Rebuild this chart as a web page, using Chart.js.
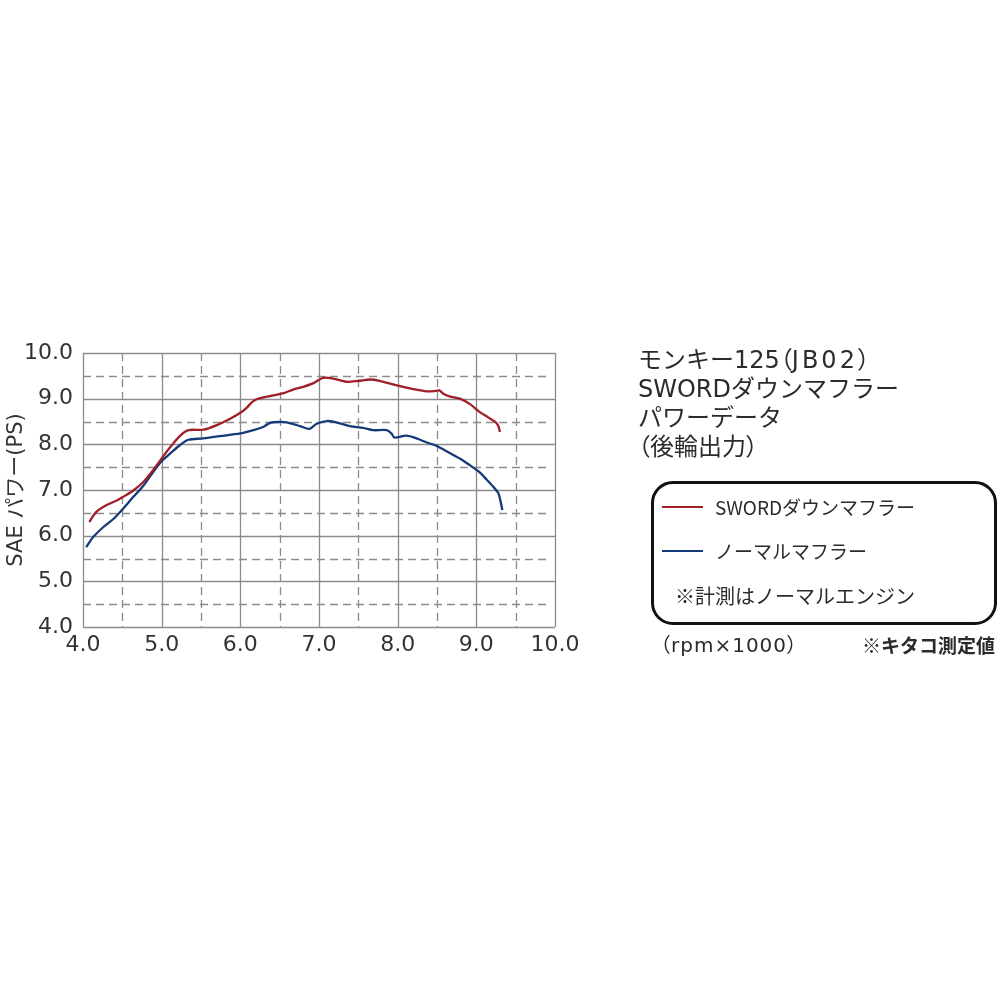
<!DOCTYPE html>
<html>
<head>
<meta charset="utf-8">
<script src="https://cdn.jsdelivr.net/npm/chart.js@4/dist/chart.umd.min.js"></script>
<style>
  html, body { margin: 0; padding: 0; background: #fff; }
  #wrap { position: relative; width: 1000px; height: 1000px; overflow: hidden; }
  canvas { position: absolute; left: 0; top: 0; }
  .t { position: absolute; font-family: "DejaVu Sans", "Noto Sans CJK JP", sans-serif; color: #2b2b2b; white-space: nowrap; }
  .p { font-feature-settings: "palt"; }
  #title { left: 638px; top: 346px; font-size: 24px; line-height: 29px; }
  #box { position: absolute; left: 651px; top: 481px; width: 340px; height: 138px; border: 3.5px solid #111; border-radius: 22px; }
  .sw { position: absolute; height: 2px; width: 41px; left: 662px; }
  .lg { font-size: 19px; line-height: 24px; font-family: "Noto Sans CJK JP", "Noto Sans", sans-serif; }
</style>
</head>
<body>
<div id="wrap">
  <canvas id="c" width="1000" height="1000"></canvas>
  <div class="t" id="title">モンキー125<span class="p">（</span><span style="letter-spacing:3px">JB02</span><span class="p">）</span><br>SWORDダウンマフラー<br>パワーデータ<br><span class="p">（</span>後輪出力<span class="p">）</span></div>
  <div id="box"></div>
  <div class="sw" style="top:506px;background:#a01e28;"></div>
  <div class="t lg" style="left:715px;top:495px;">SWORDダウンマフラー</div>
  <div class="sw" style="top:550px;background:#153a78;"></div>
  <div class="t lg" style="left:715px;top:539px;">ノーマルマフラー</div>
  <div class="t lg" style="left:675px;top:584px;font-size:20px;">※計測はノーマルエンジン</div>
  <div class="t" style="left:660px;top:633px;font-size:20px;line-height:24px;letter-spacing:1px;"><span class="p">（</span>rpm×1000<span class="p">）</span></div>
  <div class="t lg" style="left:862px;top:633px;font-weight:bold;">※キタコ測定値</div>
</div>
<script>
// ---- data ----
const rpmSword = [4.08,4.17,4.30,4.43,4.51,4.64,4.77,4.89,5.00,5.11,5.23,5.34,5.53,5.70,5.87,6.00,6.08,6.16,6.25,6.42,6.55,6.67,6.80,6.93,7.03,7.08,7.18,7.35,7.50,7.65,7.77,7.99,8.20,8.37,8.49,8.53,8.58,8.66,8.79,8.92,9.04,9.15,9.24,9.28,9.30];
const psSword  = [6.30,6.52,6.67,6.77,6.85,6.99,7.18,7.43,7.69,7.94,8.18,8.31,8.32,8.42,8.56,8.69,8.80,8.94,9.01,9.07,9.12,9.20,9.26,9.34,9.44,9.46,9.44,9.37,9.39,9.42,9.39,9.29,9.21,9.16,9.17,9.18,9.11,9.05,9.00,8.88,8.71,8.59,8.49,8.40,8.27];
const rpmNormal = [4.04,4.13,4.26,4.39,4.51,4.64,4.77,4.89,5.00,5.11,5.23,5.34,5.53,5.74,6.00,6.16,6.29,6.38,6.50,6.59,6.76,6.88,6.97,7.10,7.22,7.39,7.56,7.69,7.86,7.92,7.96,8.11,8.24,8.37,8.49,8.62,8.79,8.92,9.04,9.13,9.21,9.28,9.31,9.33];
const psNormal  = [5.75,5.97,6.19,6.37,6.59,6.85,7.10,7.39,7.63,7.80,7.98,8.10,8.13,8.18,8.24,8.31,8.38,8.47,8.49,8.48,8.40,8.34,8.45,8.51,8.48,8.40,8.36,8.31,8.31,8.24,8.15,8.19,8.13,8.04,7.97,7.85,7.69,7.54,7.39,7.23,7.08,6.93,6.74,6.56];
const seriesNames = ["SWORDダウンマフラー", "ノーマルマフラー"];
const yTitle = "SAE パワー(PS)";
const xMin = 4, xMax = 10, yMin = 4, yMax = 10;

const toPts = (xs, ys) => xs.map((x, i) => ({x: x, y: ys[i]}));

const gridPlugin = {
  id: 'customGrid',
  beforeDatasetsDraw(chart) {
    const {ctx, chartArea: a, scales: {x, y}} = chart;
    ctx.save();
    ctx.strokeStyle = '#8c8c8c';
    ctx.lineWidth = 1.3;
    ctx.setLineDash([8, 5]);
    for (let v = xMin + 0.5; v < xMax; v += 1) {
      const px = Math.round(x.getPixelForValue(v)) + 0.5;
      ctx.beginPath(); ctx.moveTo(px, a.top); ctx.lineTo(px, a.bottom); ctx.stroke();
    }
    for (let v = yMin + 0.5; v < yMax; v += 1) {
      const py = Math.round(y.getPixelForValue(v)) + 0.5;
      ctx.beginPath(); ctx.moveTo(a.left, py); ctx.lineTo(a.right - 6, py); ctx.stroke();
    }
    ctx.setLineDash([]);
    for (let v = xMin; v <= xMax; v += 1) {
      const px = Math.round(x.getPixelForValue(v)) + 0.5;
      ctx.beginPath(); ctx.moveTo(px, a.top); ctx.lineTo(px, a.bottom); ctx.stroke();
    }
    for (let v = yMin; v <= yMax; v += 1) {
      const py = Math.round(y.getPixelForValue(v)) + 0.5;
      ctx.beginPath(); ctx.moveTo(a.left, py); ctx.lineTo(a.right, py); ctx.stroke();
    }
    ctx.restore();
  }
};

const tickFont = {family: '"DejaVu Sans", "Noto Sans", sans-serif', size: 22};

new Chart(document.getElementById('c'), {
  type: 'scatter',
  data: {
    datasets: [
      {label: seriesNames[0], data: toPts(rpmSword, psSword), showLine: true, borderColor: '#a01e28', borderWidth: 2.3, pointRadius: 0, tension: 0.3, fill: false},
      {label: seriesNames[1], data: toPts(rpmNormal, psNormal), showLine: true, borderColor: '#153a78', borderWidth: 2.3, pointRadius: 0, tension: 0.3, fill: false}
    ]
  },
  options: {
    responsive: false,
    animation: false,
    layout: {padding: {top: 353, left: 0, right: 445, bottom: 333}},
    plugins: {legend: {display: false}, tooltip: {enabled: false}},
    scales: {
      x: {
        type: 'linear', min: xMin, max: xMax,
        afterFit(s) { s.height = 40; },
        grid: {display: false, drawTicks: false},
        border: {display: false},
        ticks: {stepSize: 1, padding: 5, color: '#333', font: tickFont, maxRotation: 0,
                callback: v => Number(v).toFixed(1)}
      },
      y: {
        type: 'linear', min: yMin, max: yMax,
        afterFit(s) { s.width = 83; },
        grid: {display: false, drawTicks: false},
        border: {display: false},
        title: {display: true, text: yTitle, color: '#333', padding: {top: 4, bottom: 0},
                font: {family: '"DejaVu Sans", "Noto Sans CJK JP", sans-serif', size: 21}},
        ticks: {stepSize: 1, padding: 10, color: '#333', font: tickFont,
                callback: v => Number(v).toFixed(1)}
      }
    }
  },
  plugins: [gridPlugin]
});
</script>
</body>
</html>
